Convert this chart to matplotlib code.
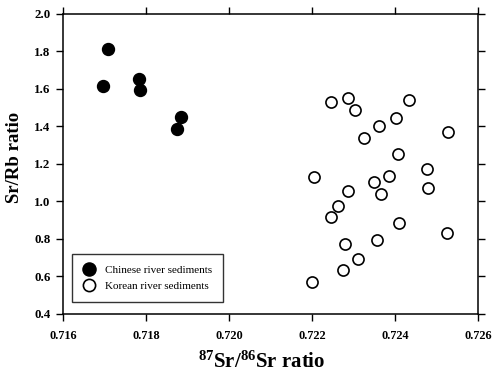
import matplotlib
matplotlib.use("Agg")
import matplotlib.pyplot as plt

plt.rcParams["font.family"] = ["Liberation Serif", "DejaVu Serif"]
plt.rcParams["mathtext.fontset"] = "custom"
plt.rcParams["mathtext.rm"] = "Liberation Serif:bold"
plt.rcParams["mathtext.it"] = "Liberation Serif:bold"
plt.rcParams["mathtext.bf"] = "Liberation Serif:bold"
plt.rcParams["mathtext.default"] = "rm"

# Chinese river sediments
china_sr_ratio = [0.71708, 0.71696, 0.71782, 0.71784, 0.71884, 0.71873]
china_sr_rb = [1.815, 1.616, 1.652, 1.595, 1.449, 1.388]

# Korean river sediments
korea_sr_ratio = [0.72244, 0.72286, 0.72304, 0.72432, 0.72402, 0.72360, 0.72325,
                  0.72526, 0.72406, 0.72203, 0.72477, 0.72386, 0.72348, 0.72287,
                  0.72366, 0.72480, 0.72262, 0.72245, 0.72410, 0.72525, 0.72356,
                  0.72279, 0.72310, 0.72275, 0.72200]
korea_sr_rb = [1.532, 1.550, 1.488, 1.541, 1.447, 1.403, 1.340,
               1.371, 1.255, 1.131, 1.173, 1.134, 1.106, 1.058,
               1.040, 1.070, 0.976, 0.919, 0.887, 0.830, 0.795,
               0.773, 0.695, 0.633, 0.573]

x_ticks = [0.716, 0.718, 0.720, 0.722, 0.724, 0.726]
y_ticks = [0.4, 0.6, 0.8, 1.0, 1.2, 1.4, 1.6, 1.8, 2.0]

fig = plt.figure(figsize=(4.92, 3.76), dpi=100)
ax = fig.add_axes([0.129, 0.165, 0.843, 0.798])

ax.plot(china_sr_ratio, china_sr_rb, linestyle="none", marker="o",
        markersize=8.6, markerfacecolor="black", markeredgecolor="black",
        label="Chinese river sediments")
ax.plot(korea_sr_ratio, korea_sr_rb, linestyle="none", marker="o",
        markersize=8.0, markerfacecolor="white", markeredgecolor="black",
        markeredgewidth=1.2, label="Korean river sediments")

ax.set_xlim(0.716, 0.726)
ax.set_ylim(0.4, 2.0)
ax.set_xticks(x_ticks)
ax.set_yticks(y_ticks)
ax.set_xticklabels([f"{v:.3f}" for v in x_ticks], fontsize=8.8, fontweight="bold")
ax.set_yticklabels([f"{v:.1f}" for v in y_ticks], fontsize=9.3, fontweight="bold")
ax.tick_params(direction="out", length=5.3, width=1, top=True, right=True,
               labeltop=False, labelright=False)
ax.tick_params(axis="y", pad=4)
ax.tick_params(axis="x", pad=6.5)
for sp in ax.spines.values():
    sp.set_linewidth(1.1)

ax.set_xlabel(r"$^{87}$Sr/$^{86}$Sr ratio", fontsize=15, fontweight="bold")
ax.xaxis.set_label_coords(0.478, -0.125)
ax.set_ylabel("Sr/Rb ratio", fontsize=13.5, fontweight="bold")
ax.yaxis.set_label_coords(-0.098, 0.52)

leg = ax.legend(loc="lower left", bbox_to_anchor=(0.006, 0.022), fontsize=8,
                frameon=True, fancybox=False, edgecolor="black",
                handletextpad=0.8, borderpad=1.0, labelspacing=0.55,
                handlelength=1.2, markerscale=1.1)
leg.get_frame().set_linewidth(1.0)

fig.savefig("out.png", dpi=100)
